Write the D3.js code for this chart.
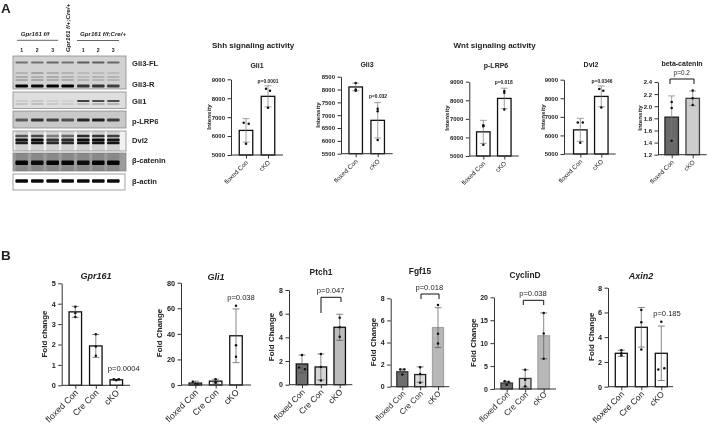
<!DOCTYPE html>
<html><head><meta charset="utf-8">
<script src="https://cdn.jsdelivr.net/npm/d3@7"></script>
<style>
html,body{margin:0;padding:0;background:#fff}
svg{display:block;filter:blur(0.35px)}
text{font-family:"Liberation Sans",Arial,sans-serif;fill:#222}
</style></head><body>
<svg id="c" width="708" height="427"></svg>
<script>
// ---------- values ----------
const twoCats = ["floxed Con","cKO"];
const threeCats = ["floxed Con","Cre Con","cKO"];
const panelTitles = ["Gli1","Gli3","p-LRP6","Dvl2","beta-catenin","Gpr161","Gli1","Ptch1","Fgf15","CyclinD","Axin2"];
const panelYLabels = ["Intensity","Intensity","Intensity","Intensity","Intensity","Fold change","Fold Change","Fold Change","Fold Change","Fold Change","Fold Change"];
const panelPValues = ["p=0.0001","p=0.032","p=0.018","p=0.0346","p=0.2","p=0.0004","p=0.038","p=0.047","p=0.018","p=0.038","p=0.185"];
const panelTicks = [
 [5000,6000,7000,8000,9000],[5500,6000,6500,7000,7500,8000,8500],[5000,6000,7000,8000,9000],[5000,6000,7000,8000,9000],
 [1.2,1.4,1.6,1.8,2.0,2.2,2.4],[0,1,2,3,4,5],[0,20,40,60,80],[0,2,4,6,8],[0,2,4,6,8],[0,5,10,15,20],[0,2,4,6,8]];
const panelMeans = [[6300,8100],[8100,6800],[6300,8100],[6300,8100],[1.82,2.13],[3.6,1.93,0.27],[1.5,3,38.5],[1.75,1.5,4.85],[1.35,1.1,5.35],[1.3,2.3,11.6],[2.7,4.8,2.7]];
const panelErrors = [[620,560],[150,690],[620,550],[620,560],[0.35,0.12],[0.27,0.56,0.03],[1.5,1.5,21],[0.75,1.1,1.1],[0.25,0.7,1.8],[0.4,1.9,5],[0.25,1.6,2.2]];
const panelDots = [
 [[6700,6650,5600],[8500,8400,7500]],
 [[8250,8000,7950],[7250,7150,6030]],
 [[6650,6600,5600],[8500,8400,7500]],
 [[6700,6700,5600],[8500,8400,7500]],
 [[2.07,1.97,1.43],[2.26,2.13,2.02]],
 [[3.85,3.55,3.35],[2.5,1.9,1.45],[0.3,0.3,0.25]],
 [[2.5,0.5,0.7],[4.5,2,2],[62,31,22]],
 [[2.5,1.45,1.3],[2.6,1.5,0.35],[5.65,4.85,4.05]],
 [[1.55,1.55,1.1],[1.75,1.15,0.35],[7.4,4.8,3.9]],
 [[1.7,1.5,0.9],[4.2,2.0,0.6],[16.6,12.1,6.6]],
 [[2.95,2.7,2.55],[6.2,5.2,3.0],[5.25,1.4,1.5]]];
const panelDotShift = [
 [[-2.3,2.7,0],[-2,2,0]],[[0,0,0],[0,0,0]],[[0,0,0],[0,0,0]],[[-2.5,2.5,0],[-2,2,0]],[[0,0,0],[0,0,0]],
 [[0,0,0],[0,0,0],[-2.5,2.5,0]],[[-2.5,2.5,0],[0,0,0],[0,0,0]],[[0,-3,3],[0,0,0],[0,0,0]],[[-2,2,0],[0,0,0],[0,0,0]],[[-2,2,0],[0,0,0],[0,0,0]],[[0,0,0],[0,0,0],[0,-3,3]]];
const panelFills = [
 ["#fff","#fff"],["#fff","#fff"],["#fff","#fff"],["#fff","#fff"],["#696969","#cdcdcd"],
 ["#fff","#fff","#fff"],["#fff","#fff","#fff"],["#6e6e6e","#d6d6d6","#bcbcbc"],["#6e6e6e","#dcdcdc","#b8b8b8"],["#6e6e6e","#d2d2d2","#b8b8b8"],["#fff","#fff","#fff"]];
const panelStrokes = [
 ["#111","#111"],["#111","#111"],["#111","#111"],["#111","#111"],["#222","#444"],
 ["#111","#111","#111"],["#111","#111","#111"],["#111","#111","#111"],["#333","#222","#a4a4a4"],["#333","#333","#a4a4a4"],["#111","#111","#111"]];

const blotLabels = ["Gli3-FL","Gli3-R","Gli1","p-LRP6","Dvl2","β-catenin","β-actin"];
const laneNumbers = ["1","2","3","","1","2","3"];
const groupLabels = ["Gpr161 f/f","Gpr161 f/+;Cre/+","Gpr161 f/f;Cre/+"];
const blotBackgrounds = ["#d2d2d2","#dedede","#c9c9c9","#f1f1f1","#9c9c9c","#ffffff"];
// one row per band: darkness in each of the seven lanes
const blotBands = [
 [[.45,.45,.5,.45,.55,.55,.5],[.14,.22,.16,.14,.1,.1,.1],[.18,.16,.18,.14,.1,.14,.14],[.2,.2,.18,.18,.14,.14,.14],[1,.95,1,1,.75,.75,.7]],
 [[.08,.1,.06,.05,.7,.65,.65],[.15,.18,.12,.1,.2,.25,.25]],
 [[.55,.75,.65,.6,.8,.85,.7]],
 [[.6,.65,.4,.5,.8,.75,.7],[.9,.95,.75,.8,.95,.95,.9],[.85,.9,.8,.8,.9,.9,.9]],
 [[.95,.9,.95,.95,.9,.95,.95]],
 [[.97,.95,.95,.95,.95,.95,.95]]];

// ---------- layout (pixels), kept apart from the values ----------
const panelFrames = [
 {ax:231,top:79.3,bot:155,x0:246,x1:268,end:283,bw:13.5,tf:6,lf:6.2,xf:6.4,xdx:2,xdy:8},
 {ax:341,top:76.7,bot:153.7,x0:355.7,x1:377.7,end:392.7,bw:13.5,tf:6,lf:6.2,xf:6.4,xdx:2,xdy:8},
 {ax:469.3,top:81.7,bot:156,x0:483.3,x1:504.3,end:518.7,bw:13.5,tf:6,lf:6.2,xf:6.4,xdx:2,xdy:8},
 {ax:564,top:79.7,bot:154,x0:580.3,x1:601.3,end:615.7,bw:13.5,tf:6,lf:6.2,xf:6.4,xdx:2,xdy:8},
 {ax:658,top:82,bot:154.7,x0:671.7,x1:692.7,end:706.7,bw:13.5,tf:6,lf:6.2,xf:6.4,xdx:2,xdy:8},
 {ax:61.7,top:283.3,bot:385.3,x0:75.3,x1:116.3,end:130,bw:12.5,tf:7.3,lf:8,xf:8.8,xdx:3,xdy:8},
 {ax:181,top:282.7,bot:385,x0:195.3,x1:236,end:251,bw:12.5,tf:7.3,lf:8,xf:8.8,xdx:3,xdy:8},
 {ax:289,top:290,bot:384.7,x0:302,x1:339.7,end:352.3,bw:11.5,tf:7,lf:8,xf:8.4,xdx:3,xdy:8},
 {ax:390.7,top:298.3,bot:386.7,x0:402.3,x1:438,end:449.3,bw:11,tf:7,lf:8,xf:8,xdx:3,xdy:7.5},
 {ax:494,top:297.3,bot:389,x0:506.7,x1:543.7,end:556,bw:11.5,tf:7,lf:8,xf:8.2,xdx:3,xdy:6},
 {ax:608,top:287.7,bot:386.7,x0:621.3,x1:661.3,end:673,bw:12,tf:7.3,lf:8,xf:8.5,xdx:3,xdy:8}];
const titleSpots = [[257,65],[367,64],[496,65],[591,64],[682,63],[96,276.5],[216,277],[321,272],[420,271],[525,275],[641,276]];
const titleItalic = [0,0,0,0,0,1,1,0,0,0,1];
const yLabelSpots = [[208.7,117],[318,115],[446.7,118],[543,117],[640,118],[44,334],[159,333],[271,337],[372.7,342],[472.7,342.7],[591,336.7]];
const pSpots = [[268,81],[378,96],[503.7,82],[602,81],[681.7,73],[123.7,368],[241,297],[330.7,290],[429.3,287],[533,293.7],[667,313]];
const pBold = [1,1,1,1,0,0,0,0,0,0,0];
const brackets = [
 [670,694,79,84,84],[321,341,297.3,313,302],[421,439,294,299,299],[523.3,543.7,300.3,305,305]];
const blotBoxes = [[13,56,113,33],[13,92,113,16.5],[13,111,113,17],[13,131,113,20],[13,153,113,18],[13,174,112,16]];
const bandYs = [[62.5,73,77,80,86],[101,104],[120],[136,140,143],[162.7],[181]];
const bandHs = [[1.8,2,2,2,3],[2,1.6],[2.8],[2.6,2.8,2.6],[4.4],[3.6]];
const laneXs = [21.7,37.3,52.7,67.7,83.3,98.3,113.3];
const blotLabelYs = [63,84,101,121,140,160,181];

const svg = d3.select("#c");
const defs = svg.append("defs");
defs.append("filter").attr("id","soft").attr("x","-20%").attr("y","-100%").attr("width","140%").attr("height","300%")
    .append("feGaussianBlur").attr("stdDeviation",0.7);

// ---------- section letters and headings ----------
svg.append("text").attr("x",1).attr("y",13).attr("font-size",13.5).attr("font-weight",700).attr("fill","#111").text("A");
svg.append("text").attr("x",1).attr("y",260).attr("font-size",13.5).attr("font-weight",700).attr("fill","#111").text("B");
svg.append("text").attr("x",212).attr("y",47.5).attr("font-size",8).attr("font-weight",700).text("Shh signaling activity");
svg.append("text").attr("x",453.5).attr("y",47.5).attr("font-size",8).attr("font-weight",700).text("Wnt signaling activity");

// ---------- blot ----------
const blotG = svg.append("g");
blotBoxes.forEach((b,i)=>{
  blotG.append("rect").attr("x",b[0]).attr("y",b[1]).attr("width",b[2]).attr("height",b[3])
    .attr("fill",blotBackgrounds[i]).attr("stroke","#8a8a8a").attr("stroke-width",0.8);
  const clip = defs.append("clipPath").attr("id","bc"+i);
  clip.append("rect").attr("x",b[0]).attr("y",b[1]).attr("width",b[2]).attr("height",b[3]);
  const g = blotG.append("g").attr("clip-path",`url(#bc${i})`);
  if(i===3){ // pale smear behind the Dvl2 bands
    g.selectAll("rect.sm").data(laneXs).join("rect").attr("class","sm")
      .attr("x",d=>d-6.5).attr("y",b[1]).attr("width",13).attr("height",b[3])
      .attr("fill","#999").attr("opacity",.35).attr("filter","url(#soft)");
  }
  if(i===4){ // darker lanes in the beta-catenin blot
    g.selectAll("rect.sm").data(laneXs).join("rect").attr("class","sm")
      .attr("x",d=>d-6).attr("y",b[1]).attr("width",12).attr("height",b[3])
      .attr("fill","#666").attr("opacity",.35).attr("filter","url(#soft)");
  }
  blotBands[i].forEach((row,r)=>{
    g.selectAll(null).data(row).join("rect")
      .attr("x",(d,k)=>laneXs[k]-6.3).attr("width",12.6)
      .attr("y",bandYs[i][r]-bandHs[i][r]/2).attr("height",bandHs[i][r]).attr("rx",1)
      .attr("fill","#000").attr("opacity",d=>d).attr("filter","url(#soft)");
  });
});
blotLabels.forEach((t,i)=>{
  blotG.append("text").attr("x",132).attr("y",blotLabelYs[i]+2.7).attr("font-size",7.6).attr("font-weight",700).text(t);
});
laneNumbers.forEach((t,i)=>{
  blotG.append("text").attr("x",laneXs[i]).attr("y",51.5).attr("text-anchor","middle").attr("font-size",5.2).attr("font-weight",700).text(t);
});
[[35,36,40.3,17,58,0],[103,36,40.5,77,119,1]].forEach(a=>{
  blotG.append("text").attr("x",a[0]).attr("y",a[1]).attr("text-anchor","middle").attr("font-size",6.1)
    .attr("font-weight",700).attr("font-style","italic").text(groupLabels[a[5]?2:0]);
  blotG.append("line").attr("x1",a[3]).attr("x2",a[4]).attr("y1",a[2]).attr("y2",a[2]).attr("stroke","#222").attr("stroke-width",.7);
});
blotG.append("text").attr("transform","translate(69.5,52) rotate(-90)").attr("font-size",6.2)
  .attr("font-weight",700).attr("font-style","italic").text(groupLabels[1]);

// ---------- bar panels ----------
panelFrames.forEach((f,i)=>{
  const cats = panelMeans[i].length===2?twoCats:threeCats;
  const x = d3.scalePoint().domain(cats).range([f.x0,f.x1]);
  const ticks = panelTicks[i];
  const y = d3.scaleLinear().domain([ticks[0],ticks[ticks.length-1]]).range([f.bot,f.top]);
  const g = svg.append("g");

  g.selectAll("rect.bar").data(cats).join("rect").attr("class","bar")
    .attr("x",d=>x(d)-f.bw/2).attr("width",f.bw)
    .attr("y",(d,k)=>y(panelMeans[i][k])).attr("height",(d,k)=>f.bot-y(panelMeans[i][k]))
    .attr("fill",(d,k)=>panelFills[i][k]).attr("stroke",(d,k)=>panelStrokes[i][k]).attr("stroke-width",1.3);

  const errColor = i<5?"#777":"#555";
  cats.forEach((c,k)=>{
    const hi=y(panelMeans[i][k]+panelErrors[i][k]), lo=y(Math.max(panelMeans[i][k]-panelErrors[i][k],ticks[0]));
    g.append("line").attr("x1",x(c)).attr("x2",x(c)).attr("y1",hi).attr("y2",lo).attr("stroke",errColor).attr("stroke-width",.7);
    [hi,lo].forEach(v=>g.append("line").attr("x1",x(c)-3.5).attr("x2",x(c)+3.5).attr("y1",v).attr("y2",v).attr("stroke",errColor).attr("stroke-width",.7));
    g.selectAll(null).data(panelDots[i][k]).join("circle")
      .attr("cx",(d,j)=>x(c)+panelDotShift[i][k][j]).attr("cy",d=>y(d)).attr("r",1.25).attr("fill","#111");
  });

  const yAxis = d3.axisLeft(y).tickValues(ticks).tickSize(3.5).tickSizeOuter(0)
     .tickFormat(v=>ticks[0]===1.2?d3.format(".1f")(v):d3.format("d")(v));
  const ya = g.append("g").attr("transform",`translate(${f.ax},0)`).call(yAxis);
  ya.selectAll("text").attr("font-size",f.tf).attr("font-weight",700).attr("font-family",null).attr("dx",0.5);
  ya.selectAll("path,line").attr("stroke","#333").attr("stroke-width",1);

  const xAxis = d3.axisBottom(x).tickSize(3.5).tickSizeOuter(0);
  const xa = g.append("g").attr("transform",`translate(0,${f.bot})`).call(xAxis);
  xa.select("path").remove();
  xa.selectAll("line").attr("stroke","#333");
  xa.selectAll("text").attr("font-size",f.xf).attr("text-anchor","end").attr("dx",0).attr("dy",0)
    .attr("transform",`translate(${f.xdx},${f.xdy}) rotate(-45)`).attr("y",0).attr("x",0);
  g.append("line").attr("x1",f.ax).attr("x2",f.end).attr("y1",f.bot).attr("y2",f.bot).attr("stroke","#333").attr("stroke-width",1);

  g.append("text").attr("x",titleSpots[i][0]).attr("y",titleSpots[i][1]+2.5).attr("text-anchor","middle")
    .attr("font-size",i<5?7:(titleItalic[i]?9:8.4)).attr("font-weight",700).attr("font-style",titleItalic[i]?"italic":"normal").text(panelTitles[i]);
  g.append("text").attr("transform",`translate(${yLabelSpots[i][0]},${yLabelSpots[i][1]}) rotate(-90)`)
    .attr("dy",".35em").attr("text-anchor","middle").attr("font-size",f.lf).attr("font-weight",700).attr("fill","#333").text(panelYLabels[i]);
  g.append("text").attr("x",pSpots[i][0]).attr("y",pSpots[i][1]).attr("dy",".35em").attr("text-anchor","middle")
    .attr("font-size",pBold[i]?4.9:(i===4?6.4:7.6)).attr("font-weight",pBold[i]?700:400).attr("fill","#444").text(panelPValues[i]);
});
brackets.forEach(b=>{
  svg.append("path").attr("d",d3.line()([[b[0],b[3]],[b[0],b[2]],[b[1],b[2]],[b[1],b[4]]]))
    .attr("fill","none").attr("stroke","#111").attr("stroke-width",1);
});
</script></body></html>
